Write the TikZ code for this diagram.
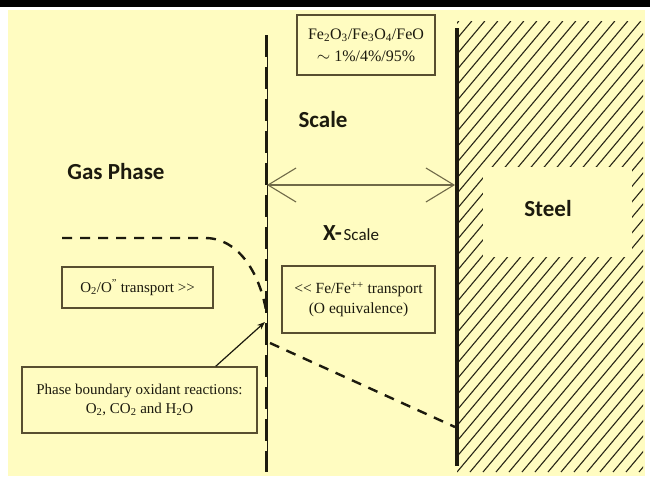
\documentclass[tikz,border=0pt]{standalone}
\usepackage{fontspec}
\setmainfont{Liberation Serif}
\newfontfamily\lblfont{Carlito}
\usetikzlibrary{arrows.meta,calc}
\definecolor{paper}{RGB}{255,252,193}
\definecolor{ink}{RGB}{28,26,14}
\definecolor{boxline}{RGB}{88,78,48}
\definecolor{scaleline}{RGB}{112,106,72}
\definecolor{hatchline}{RGB}{40,38,22}
\tikzset{
  infobox/.style={draw=boxline, line width=1.3pt, fill=paper, inner sep=0pt,
    align=center, text=ink, font=\fontsize{15}{19}\selectfont},
  biglabel/.style={text=ink, inner sep=0pt, font=\lblfont\bfseries\fontsize{23}{26}\selectfont},
  profile/.style={ink, line width=2.4pt, dash pattern=on 10pt off 8pt},
}
\begin{document}
\begin{tikzpicture}[x=1pt,y=-1pt]
  % page, top band and paper
  \fill[white] (0,0) rectangle (650,479);
  \useasboundingbox (0,0) rectangle (650,479);
  \fill[black] (0,0) rectangle (650,7);
  \fill[paper] (8,10) rectangle (645,476);

  % hatched steel region
  \begin{scope}
    \clip (457,21) rectangle (643,472);
    \foreach \i in {-36,...,16}
      \draw[hatchline, line width=1.1pt] (457+13*\i,472) -- ({457+13*\i+451*0.84},21);
  \end{scope}
  \fill[paper] (483,167) rectangle (632,257);
  \node[biglabel] (steel) at (548,209) {Steel};

  % steel surface
  \coordinate (steeltop) at (457,28);
  \coordinate (steelbot) at (457,466);
  \draw[ink, line width=4pt] (steeltop) -- (steelbot);

  % gas/scale interface
  \coordinate (iftop) at (267,35);
  \coordinate (ifbot) at (267,472);
  \draw[ink, line width=1pt] (iftop) -- (ifbot);
  \draw[ink, line width=3pt, dash pattern=on 22pt off 10pt] ([xshift=-0.8pt]iftop) -- ([xshift=-0.8pt]ifbot);

  % scale thickness arrow
  \coordinate (sL) at (267,185);
  \coordinate (sR) at (455,185);
  \draw[scaleline, line width=1.1pt,
        {Straight Barb[length=28pt,width=34pt,line width=1.1pt]}-{Straight Barb[length=28pt,width=34pt,line width=1.1pt]}]
        (sL) -- (sR);

  % labels
  \node[biglabel] (gas) at (116,172) {Gas Phase};
  \node[biglabel] (scale) at (323,120) {Scale};
  \node[text=ink, inner sep=0pt, anchor=base] (xscale) at (351,240)
    {\lblfont{\bfseries\fontsize{23}{26}\selectfont X-}\,\fontsize{17}{20}\selectfont Scale};

  % boxes
  \node[infobox, minimum width=138pt, minimum height=60pt, font=\fontsize{16}{22}\selectfont]
    (oxides) at (366,45)
    {Fe\textsubscript{2}O\textsubscript{3}/Fe\textsubscript{3}O\textsubscript{4}/FeO\\ $\sim$ 1\%/4\%/95\%};
  \node[infobox, minimum width=151pt, minimum height=41pt] (otrans) at (137.5,287.5)
    {O\textsubscript{2}/O\textsuperscript{''} transport >\kern0pt>};
  \node[infobox, minimum width=153pt, minimum height=67pt, font=\fontsize{15.5}{20}\selectfont]
    (fetrans) at (358.5,299.5)
    {<\kern0pt< Fe/Fe\textsuperscript{++} transport\\(O equivalence)};
  \node[infobox, minimum width=235pt, minimum height=66pt] (pb) at (139.5,400)
    {Phase boundary oxidant reactions:\\O\textsubscript{2}, CO\textsubscript{2} and H\textsubscript{2}O};

  % oxygen potential profile
  \coordinate (p0) at (62,238);
  \coordinate (p1) at (205,238);
  \coordinate (p2) at (266,310);
  \coordinate (p3) at (270,343);
  \coordinate (p4) at (455,427);
  \draw[profile] (p0) -- (p1) .. controls (238,238) and (259,272) .. (p2);
  \draw[profile] (p3) -- (p4);

  % pointer to the phase boundary
  \coordinate (pbtip) at (265,322);
  \draw[ink, line width=1.2pt, -{Stealth[length=8pt,width=6pt]}] ([xshift=-42pt]pb.north east) -- (pbtip);
\end{tikzpicture}
\end{document}
